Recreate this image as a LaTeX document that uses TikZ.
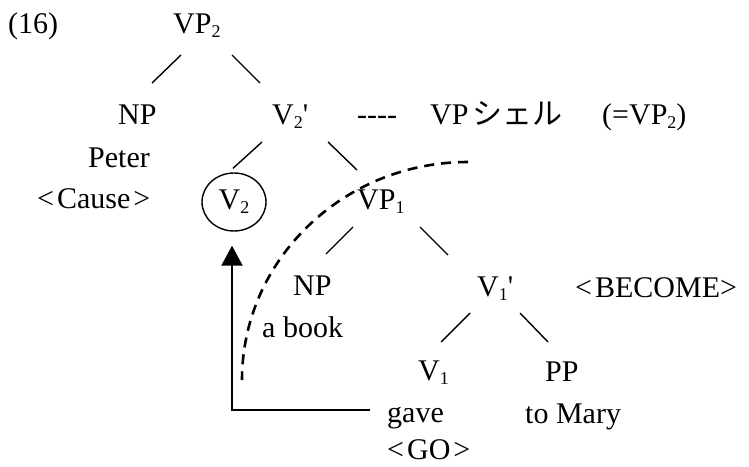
\documentclass[tikz,border=0pt]{standalone}
\usepackage{fontspec}
\setmainfont{Liberation Serif}[Ligatures=TeXOff]
\newfontfamily\jp{Noto Sans CJK JP}
\usetikzlibrary{arrows.meta,shapes.geometric}
\newcommand\subs[1]{\raisebox{-4pt}{\fontsize{18}{18}\selectfont #1}}
\newcommand\pr{\textquotesingle}
\begin{document}
\begin{tikzpicture}[x=1pt,y=-1pt,
  lbl/.style={inner sep=0pt, anchor=base west, font=\fontsize{30}{36}\selectfont},
  circled/.style={draw, ellipse, line width=1.4pt, minimum width=64pt, minimum height=58pt, inner sep=0pt, font=\fontsize{30}{36}\selectfont},
  branch/.style={line width=1.4pt},
  movearrow/.style={line width=2.2pt, -{Triangle[length=20pt,width=21pt]}},
  shellline/.style={line width=2.6pt, dash pattern=on 10pt off 7pt}]
\useasboundingbox (0,0) rectangle (749,466);
% labels
\node[lbl] (ex) at (8,33) {(16)};
\node[lbl] (vp2) at (173,33) {VP\subs{2}};
\node[lbl] (np2) at (118,124) {NP};
\node[lbl] (v2bar) at (272,124) {V\subs{2}\pr};
\node[lbl] (dash) at (357,124) {----};
\node[lbl] (shell) at (430,124) {VP\hspace{4pt}{\jp シェル}};
\node[lbl] (eq) at (602,124) {(=VP\subs{2})};
\node[lbl] (peter) at (88,167) {Peter};
\node[lbl] (cause) at (37,208) {<\hspace{3pt}Cause\hspace{3pt}>};
\node[circled] (v2) at (234,202) {V\subs{2}};
\node[lbl] (vp1) at (357,209) {VP\subs{1}};
\node[lbl] (np1) at (293,295) {NP};
\node[lbl] (v1bar) at (477,296) {V\subs{1}\pr};
\node[lbl] (become) at (575,297) {<\hspace{3pt}BECOME>};
\node[lbl] (book) at (262,337) {a book};
\node[lbl] (v1) at (418,380) {V\subs{1}};
\node[lbl] (pp) at (545,381) {PP};
\node[lbl] (gave) at (387,422) {gave};
\node[lbl] (mary) at (525,423) {to Mary};
\node[lbl] (go) at (387,459) {<\hspace{3pt}GO\hspace{3pt}>};
% branches
\draw[branch] ([shift={(8,22)}]vp2.base west) -- ([shift={(34,-41)}]np2.base west);
\draw[branch] ([shift={(59,22)}]vp2.base west) -- ([shift={(-12,-41)}]v2bar.base west);
\draw[branch] ([shift={(-10,18)}]v2bar.base west) -- ([shift={(-1,-4)}]v2.north);
\draw[branch] ([shift={(56,18)}]v2bar.base west) -- ([shift={(0,-39)}]vp1.base west);
\draw[branch] ([shift={(-4,18)}]vp1.base west) -- ([shift={(33,-41)}]np1.base west);
\draw[branch] ([shift={(63,18)}]vp1.base west) -- ([shift={(-29,-41)}]v1bar.base west);
\draw[branch] ([shift={(-7,17)}]v1bar.base west) -- ([shift={(23,-38)}]v1.base west);
\draw[branch] ([shift={(43,17)}]v1bar.base west) -- ([shift={(3,-39)}]pp.base west);
% movement arrow
\draw[movearrow] ([shift={(-17,-12)}]gave.base west) -| ([shift={(-2,14)}]v2.south);
% VP shell boundary
\draw[shellline] (468,162) .. controls (343,162) and (242,260) .. (242,380);
\end{tikzpicture}
\end{document}
